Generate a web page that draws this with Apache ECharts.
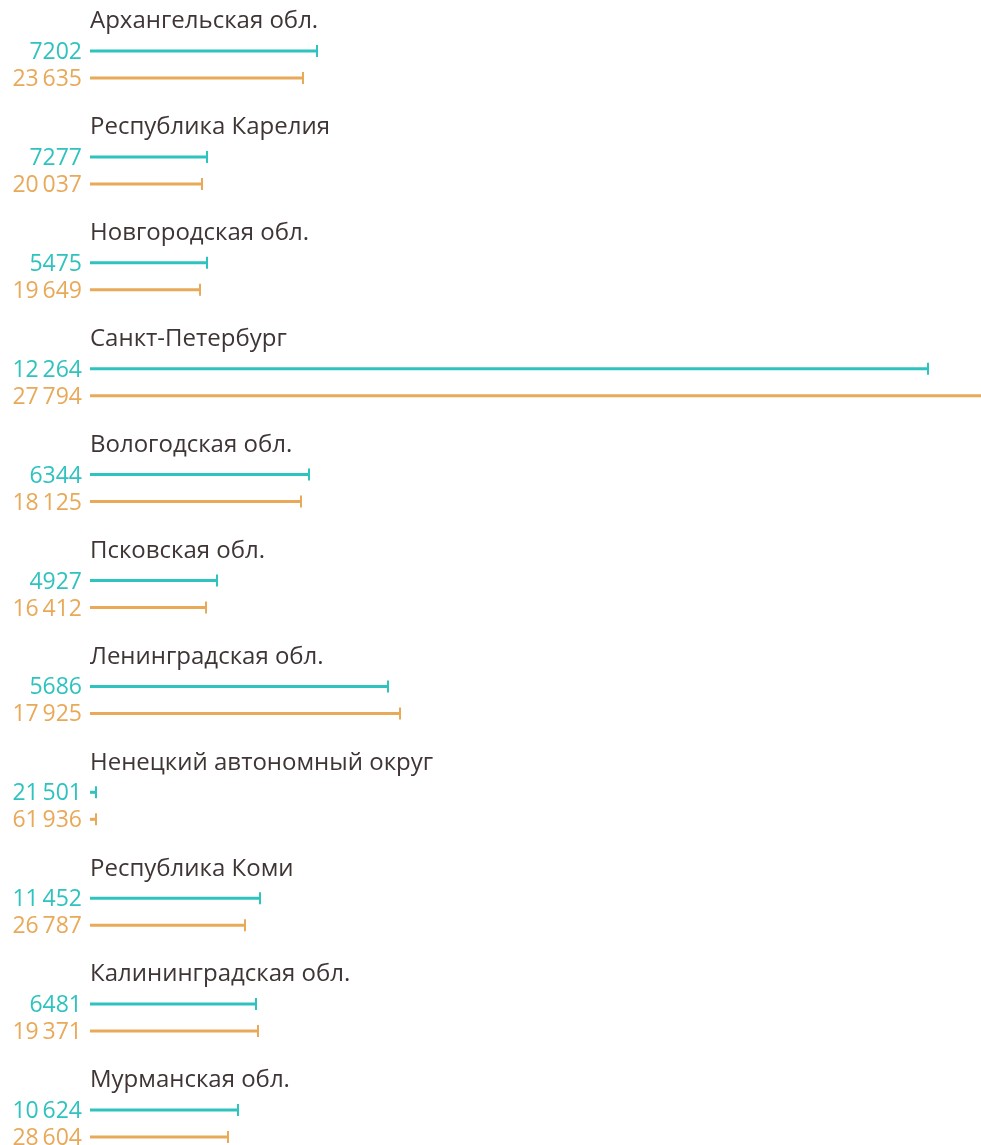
<!DOCTYPE html>
<html><head><meta charset="utf-8">
<script src="https://cdn.jsdelivr.net/npm/echarts@6/dist/echarts.min.js"></script>
<style>html,body{margin:0;padding:0;background:#fff}#c{width:981px;height:1145px}</style>
</head><body><div id="c"></div>
<script>
const regions = ['Архангельская обл.','Республика Карелия','Новгородская обл.','Санкт-Петербург','Вологодская обл.','Псковская обл.','Ленинградская обл.','Ненецкий автономный округ','Республика Коми','Калининградская обл.','Мурманская обл.'];
const labelTeal = ['7202','7277','5475','12\u2009264','6344','4927','5686','21\u2009501','11\u2009452','6481','10\u2009624'];
const labelOrange = ['23\u2009635','20\u2009037','19\u2009649','27\u2009794','18\u2009125','16\u2009412','17\u2009925','61\u2009936','26\u2009787','19\u2009371','28\u2009604'];
const barTeal = [228,118,118,839,220,128,299,7,171,167,149];
const barOrange = [214,113,111,895,212,117,311,7,156,169,139];

const TEAL = '#2fc3bf', ORANGE = '#e8a959', TXT = '#3f3535';
const FONT = '"Open Sans"';
const data = regions.map((r,i)=>[i, barTeal[i], barOrange[i]]);

function renderItem(params, api){
  const i = api.value(0);
  const base = api.coord([0, i]);
  const xt = api.coord([api.value(1), i])[0];
  const xo = api.coord([api.value(2), i])[0];
  const y = base[1], x0 = base[0];
  const yt = y - 13.5, yo = y + 13.5;
  const lw = 3;
  const children = [
    {type:'text', style:{text: regions[i], x: x0, y: y - 43, fill: TXT, font: '24px ' + FONT, textAlign:'left', textVerticalAlign:'middle'}},
    {type:'line', shape:{x1:x0, y1:yt, x2:xt, y2:yt}, style:{stroke:TEAL, lineWidth:lw}},
    {type:'line', shape:{x1:xt-1, y1:yt-6, x2:xt-1, y2:yt+6}, style:{stroke:TEAL, lineWidth:2}},
    {type:'line', shape:{x1:x0, y1:yo, x2:xo, y2:yo}, style:{stroke:ORANGE, lineWidth:lw}},
    {type:'line', shape:{x1:xo-1, y1:yo-6, x2:xo-1, y2:yo+6}, style:{stroke:ORANGE, lineWidth:2}},
    {type:'text', style:{text: labelTeal[i], x: x0-8, y: yt + 1.5, fill: TEAL, font: '23px ' + FONT, textAlign:'right', textVerticalAlign:'middle'}},
    {type:'text', style:{text: labelOrange[i], x: x0-8, y: yo + 1.5, fill: ORANGE, font: '23px ' + FONT, textAlign:'right', textVerticalAlign:'middle'}}
  ];
  return {type:'group', children};
}

const chart = echarts.init(document.getElementById('c'), null, {renderer:'canvas'});
chart.setOption({
  animation:false,
  grid:{left:90, right:0, top:64.5, bottom:21.5},
  xAxis:{type:'value', min:0, max:891, show:false},
  yAxis:{type:'category', data:regions.map((r,i)=>i), inverse:true, boundaryGap:false, show:false},
  series:[{type:'custom', renderItem, data, clip:false, encode:{x:[1,2], y:0}}]
});
</script></body></html>
